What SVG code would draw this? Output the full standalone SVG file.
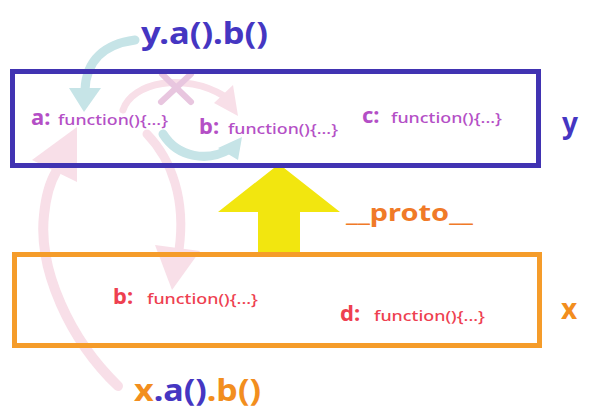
<svg xmlns="http://www.w3.org/2000/svg" width="600" height="416" viewBox="0 0 600 416">
<style>
.big{font-family:"Noto Sans","Open Sans",sans-serif;font-weight:bold}
.key{font-family:"Noto Sans","Open Sans",sans-serif;font-weight:bold;font-size:22px}
.fn{font-family:"Noto Sans","Open Sans",sans-serif;font-weight:500;font-size:13.5px}
.py{fill:#B44FC6}
.rx{fill:#EE4050}
.blue{fill:#4536C2}
.orange{fill:#F28E1E}
.pk{fill:none;stroke:#F8DFE8;stroke-linecap:round}
.pkh{fill:#F8DFE8}
.cy{fill:none;stroke:#C6E4E7;stroke-width:9;stroke-linecap:round}
.cyh{fill:#C6E4E7}
</style>
<rect width="600" height="416" fill="#fff"/>
<g id="connectors">
  <path class="pk" stroke-width="10" d="M118,386 C70,340 38,270 44,215 C46,195 50,182 56,172"/>
  <polygon class="pkh" points="32,160 77,127 77,182"/>
  <path class="pk" stroke-width="9" d="M147,134 C172,160 186,200 179,250"/>
  <polygon class="pkh" points="155,245 200,251 172,290"/>
  <path class="pk" stroke-width="7" d="M123,110 C132,82 185,72 224,96"/>
  <polygon class="pkh" points="214,103 233,85 238,116"/>
  <g stroke="#E8C6DF" stroke-width="6" stroke-linecap="round">
    <line x1="162" y1="74" x2="191" y2="102"/>
    <line x1="191" y1="74" x2="161" y2="102"/>
  </g>
  <path class="cy" d="M135,40 C105,44 86,60 85,90"/>
  <polygon class="cyh" points="69,88 101,88 84,112"/>
  <path class="cy" d="M163,134 C178,158 208,162 230,149"/>
  <polygon class="cyh" points="218,148 242,137 238,160"/>
  <polygon id="proto-arrow" fill="#F2E60F" points="279,164 340,212 300,212 300,253 258,253 258,212 218,212"/>
</g>
<g id="y">
  <rect x="12.5" y="71.5" width="526" height="94" fill="none" stroke="#4133B2" stroke-width="5"/>
  <text class="big blue" x="562" y="133" font-size="28">y</text>
</g>
<g id="x">
  <rect x="14.5" y="254.5" width="525" height="91" fill="none" stroke="#F59C2A" stroke-width="5"/>
  <text class="big orange" x="561" y="319" font-size="28">x</text>
</g>
<g id="y-a">
  <text class="key py" x="31" y="125">a:</text>
  <text class="fn py" x="58" y="125" textLength="110" lengthAdjust="spacingAndGlyphs">function(){...}</text>
</g>
<g id="y-b">
  <text class="key py" x="199" y="134">b:</text>
  <text class="fn py" x="228" y="134" textLength="110" lengthAdjust="spacingAndGlyphs">function(){...}</text>
</g>
<g id="y-c">
  <text class="key py" x="362" y="123">c:</text>
  <text class="fn py" x="391" y="123" textLength="111" lengthAdjust="spacingAndGlyphs">function(){...}</text>
</g>
<g id="x-b">
  <text class="key rx" x="113" y="304">b:</text>
  <text class="fn rx" x="147" y="304" textLength="111" lengthAdjust="spacingAndGlyphs">function(){...}</text>
</g>
<g id="x-d">
  <text class="key rx" x="340" y="321">d:</text>
  <text class="fn rx" x="374" y="321" textLength="111" lengthAdjust="spacingAndGlyphs">function(){...}</text>
</g>
<g id="y-call">
  <text class="big blue" x="141" y="44" font-size="30" textLength="127" lengthAdjust="spacingAndGlyphs">y.a().b()</text>
</g>
<g id="x-call">
  <text class="big" x="134" y="401" font-size="30" textLength="127" lengthAdjust="spacingAndGlyphs"><tspan class="orange">x</tspan><tspan class="blue">.a()</tspan><tspan class="orange">.b()</tspan></text>
</g>
<g id="proto-label">
  <text class="big" fill="#F07A28" x="346" y="221" font-size="23" textLength="127" lengthAdjust="spacingAndGlyphs">__proto__</text>
</g>
</svg>
